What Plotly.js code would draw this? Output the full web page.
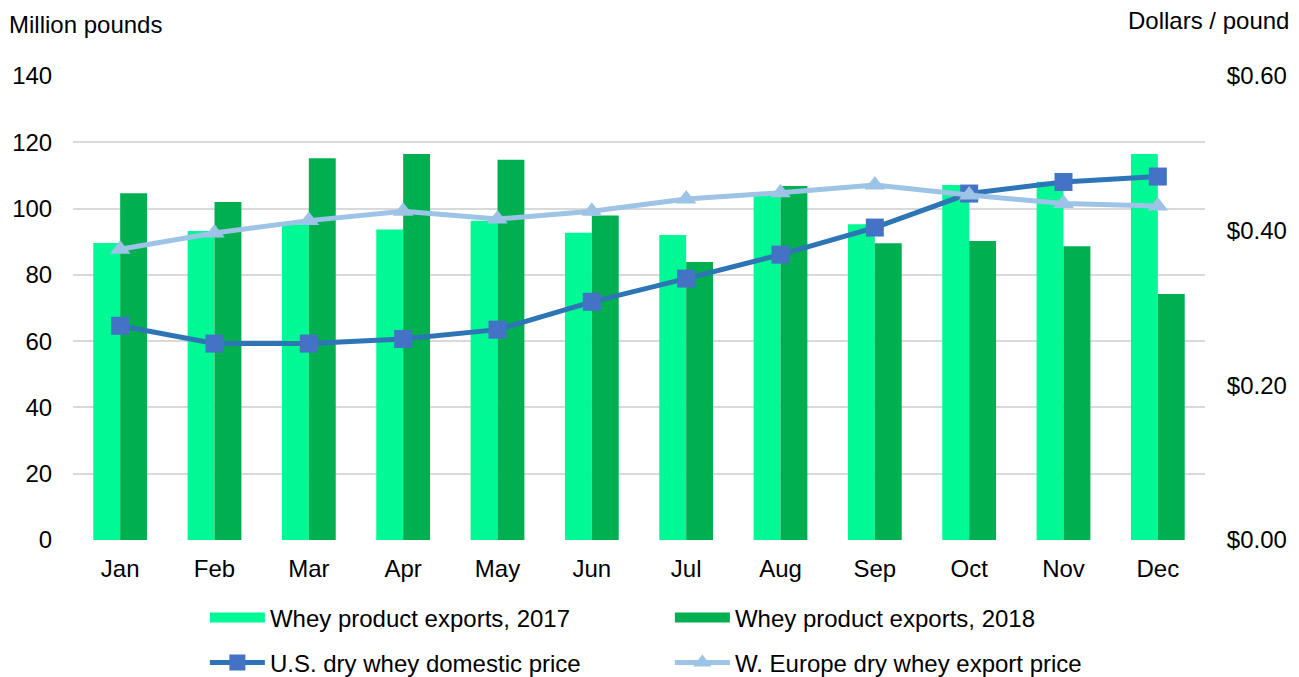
<!DOCTYPE html>
<html>
<head>
<meta charset="utf-8">
<script src="https://cdn.plot.ly/plotly-3.0.1.min.js"></script>
<style>html,body{margin:0;padding:0;background:#fff;}#chart{width:1299px;height:677px;}</style>
</head>
<body>
<div id="chart"></div>
<script>
const months = ["Jan","Feb","Mar","Apr","May","Jun","Jul","Aug","Sep","Oct","Nov","Dec"];
const exports2017 = [89.6, 93.2, 95.3, 93.7, 96.3, 92.7, 92.0, 104.0, 95.3, 107.1, 108.1, 116.5];
const exports2018 = [104.6, 102.0, 115.2, 116.5, 114.7, 97.9, 83.9, 106.8, 89.5, 90.2, 88.6, 74.2];
const usPrice = [0.277, 0.254, 0.254, 0.260, 0.272, 0.308, 0.338, 0.369, 0.404, 0.448, 0.463, 0.470];
const euPrice = [0.376, 0.397, 0.413, 0.425, 0.415, 0.425, 0.441, 0.449, 0.459, 0.446, 0.435, 0.432];
const leftTicks = [0, 20, 40, 60, 80, 100, 120, 140];
const rightTicks = [0, 0.2, 0.4, 0.6];

const font = "Liberation Sans, Arial, sans-serif";
const FS = 24;
const c2017 = "#00F994", c2018 = "#00AF50";
const traces = [
  {type:"bar", name:"Whey product exports, 2017", x:months, y:exports2017, marker:{color:c2017}, showlegend:false},
  {type:"bar", name:"Whey product exports, 2018", x:months, y:exports2018, marker:{color:c2018}, showlegend:false},
  // legend keys for the bar series (wide swatches like the original)
  {type:"scatter", mode:"lines", name:"Whey product exports, 2017", x:[months[0]], y:[null], line:{color:c2017, width:13}, legend:"legend", hoverinfo:"skip"},
  {type:"scatter", mode:"lines", name:"Whey product exports, 2018", x:[months[0]], y:[null], line:{color:c2018, width:13}, legend:"legend", hoverinfo:"skip"},
  {type:"scatter", mode:"lines+markers", name:"U.S. dry whey domestic price", x:months, y:usPrice, yaxis:"y2",
   line:{color:"#2E75B6", width:5}, marker:{symbol:"square", size:18, color:"#4472C4"}, legend:"legend2"},
  {type:"scatter", mode:"lines+markers", name:"W. Europe dry whey export price", x:months, y:euPrice, yaxis:"y2",
   line:{color:"#9DC3E6", width:5}, marker:{symbol:"triangle-up", size:18, color:"#9DC3E6"}, legend:"legend2"}
];
const layout = {
  width:1299, height:677,
  margin:{l:73, r:94, t:76, b:137, autoexpand:false},
  paper_bgcolor:"#fff", plot_bgcolor:"#fff",
  font:{family:font, size:FS, color:"#000"},
  barmode:"group", bargap:0.43, bargroupgap:0,
  showlegend:true,
  xaxis:{type:"category", range:[-0.5, 11.5], automargin:false, showgrid:false, zeroline:false, showline:false, ticks:"outside", ticklen:7, tickcolor:"rgba(0,0,0,0)", tickfont:{size:FS}},
  yaxis:{range:[0,140], automargin:false, tickvals:leftTicks, showgrid:true, gridcolor:"#D9D9D9", gridwidth:1.5, zeroline:false, showline:false,
         ticks:"outside", ticklen:15, tickcolor:"rgba(0,0,0,0)", tickfont:{size:FS}},
  yaxis2:{range:[0,0.6], automargin:false, tickvals:rightTicks, tickformat:"$.2f", overlaying:"y", side:"right", showgrid:false, zeroline:false,
          showline:false, ticks:"outside", ticklen:16, tickcolor:"rgba(0,0,0,0)", tickfont:{size:FS}},
  legend:{orientation:"h", x:0.1165, y:-0.1196, xanchor:"left", yanchor:"top", itemwidth:55, entrywidth:395, entrywidthmode:"pixels", font:{size:FS}, bgcolor:"rgba(0,0,0,0)"},
  legend2:{orientation:"h", x:0.1165, y:-0.2166, xanchor:"left", yanchor:"top", itemwidth:55, entrywidth:395, entrywidthmode:"pixels", font:{size:FS}, bgcolor:"rgba(0,0,0,0)"},
  annotations:[
    {text:"Million pounds", xref:"paper", yref:"paper", x:-0.058, y:1.11, xanchor:"left", yanchor:"middle", showarrow:false, font:{size:FS}},
    {text:"Dollars / pound", xref:"paper", yref:"paper", x:1.076, y:1.12, xanchor:"right", yanchor:"middle", showarrow:false, font:{size:FS}}
  ]
};
Plotly.newPlot("chart", traces, layout, {displayModeBar:false});
</script>
</body>
</html>
